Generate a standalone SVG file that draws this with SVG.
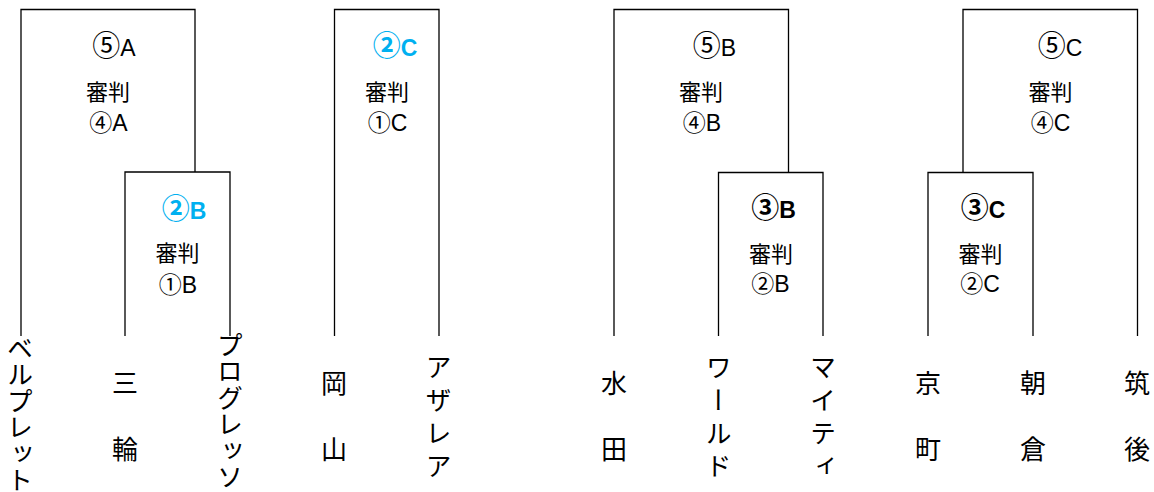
<svg xmlns="http://www.w3.org/2000/svg" width="1154" height="492" viewBox="0 0 1154 492">
<style>
.ln{fill:none;stroke:#000;stroke-width:1.3}
.t{font-family:"Liberation Sans","Noto Sans CJK JP",sans-serif;font-size:23px;fill:#000;text-anchor:middle}
.j{font-family:"Noto Sans CJK JP",sans-serif;font-size:22px;fill:#000;text-anchor:middle}
.c{font-size:23px}
.big{font-size:28px}
.blue{fill:#00B0F0;font-weight:bold}
.bold{font-weight:bold}
.v{font-family:"Noto Sans CJK JP",sans-serif;font-size:26px;fill:#000;writing-mode:vertical-rl}
.v6{letter-spacing:0.5px}
.v4{letter-spacing:7px}
</style>
<rect width="1154" height="492" fill="#fff"/>
<g id="connectors">
<path class="ln" d="M21,336V9.5H195V172"/>
<path class="ln" d="M125,336V172H230V336"/>
<path class="ln" d="M334.5,336V9.5H439V336"/>
<path class="ln" d="M614,336V9.5H788.5V172.5"/>
<path class="ln" d="M718.5,336V172.5H823V336"/>
<path class="ln" d="M963,172.5V9.5H1137.5V336"/>
<path class="ln" d="M928,336V172.5H1033V336"/>
</g>
<g id="match-5A">
<text class="t" x="114" y="56"><tspan class="big">⑤</tspan>A</text>
<text class="j" x="108" y="100">審判</text>
<text class="t" x="108.5" y="131"><tspan class="c">④</tspan>A</text>
</g>
<g id="match-2B">
<text class="t blue" x="184" y="219"><tspan class="big">②</tspan>B</text>
<text class="j" x="177.5" y="261">審判</text>
<text class="t" x="178" y="293"><tspan class="c">①</tspan>B</text>
</g>
<g id="match-2C">
<text class="t blue" x="395" y="56"><tspan class="big">②</tspan>C</text>
<text class="j" x="387" y="100">審判</text>
<text class="t" x="387.5" y="131"><tspan class="c">①</tspan>C</text>
</g>
<g id="match-5B">
<text class="t" x="714.5" y="56"><tspan class="big">⑤</tspan>B</text>
<text class="j" x="701" y="100">審判</text>
<text class="t" x="702" y="131"><tspan class="c">④</tspan>B</text>
</g>
<g id="match-3B">
<text class="t bold" x="773.5" y="218"><tspan class="big">③</tspan>B</text>
<text class="j" x="771" y="262">審判</text>
<text class="t" x="770.5" y="292"><tspan class="c">②</tspan>B</text>
</g>
<g id="match-5C">
<text class="t" x="1060" y="56"><tspan class="big">⑤</tspan>C</text>
<text class="j" x="1050.5" y="100">審判</text>
<text class="t" x="1050.5" y="131"><tspan class="c">④</tspan>C</text>
</g>
<g id="match-3C">
<text class="t bold" x="983" y="218"><tspan class="big">③</tspan>C</text>
<text class="j" x="980.5" y="262">審判</text>
<text class="t" x="980" y="292"><tspan class="c">②</tspan>C</text>
</g>
<g id="team-berupuretto"><text class="v v6" x="20" y="335">ベルプレット</text></g>
<g id="team-miwa"><text class="v" x="125" y="370"><tspan y="370">三</tspan><tspan y="436">輪</tspan></text></g>
<g id="team-puroguresso"><text class="v v6" x="230" y="332">プログレッソ</text></g>
<g id="team-okayama"><text class="v" x="334" y="370"><tspan y="370">岡</tspan><tspan y="436">山</tspan></text></g>
<g id="team-azarea"><text class="v v4" x="438.5" y="354">アザレア</text></g>
<g id="team-mizuta"><text class="v" x="614" y="370"><tspan y="370">水</tspan><tspan y="436">田</tspan></text></g>
<g id="team-world"><text class="v v4" x="718.5" y="354">ワールド</text></g>
<g id="team-mighty"><text class="v v4" x="823" y="354">マイティ</text></g>
<g id="team-kyomachi"><text class="v" x="928" y="370"><tspan y="370">京</tspan><tspan y="436">町</tspan></text></g>
<g id="team-asakura"><text class="v" x="1033" y="370"><tspan y="370">朝</tspan><tspan y="436">倉</tspan></text></g>
<g id="team-chikugo"><text class="v" x="1137" y="370"><tspan y="370">筑</tspan><tspan y="436">後</tspan></text></g>
</svg>
